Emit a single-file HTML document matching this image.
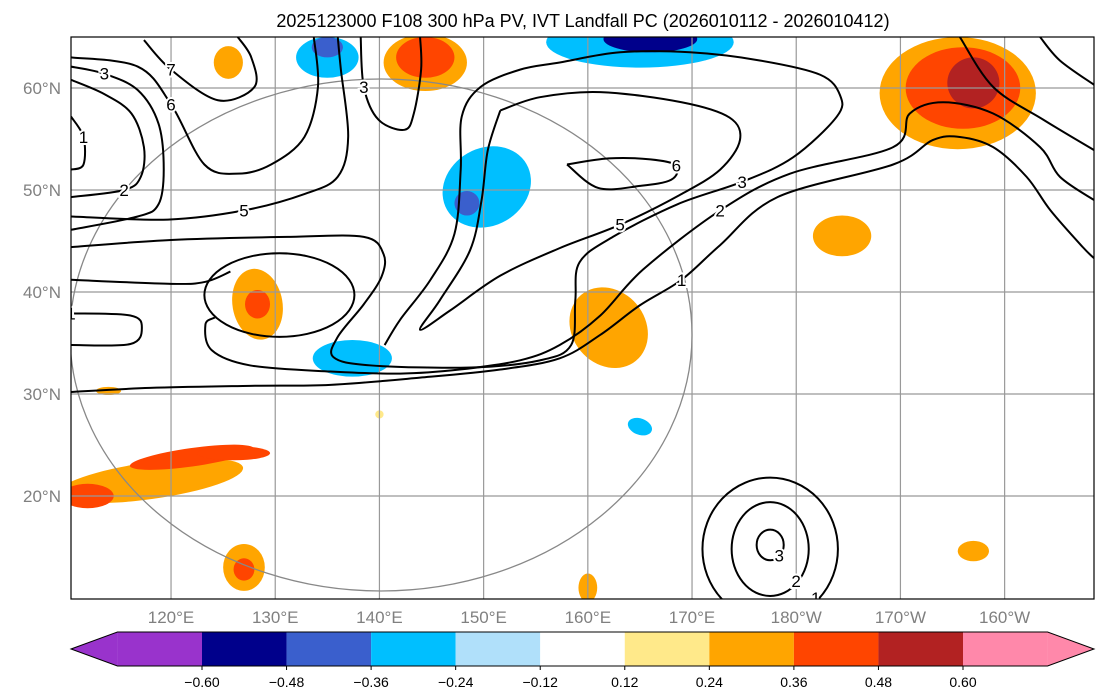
<!DOCTYPE html>
<html><head><meta charset="utf-8"><style>
body{margin:0;background:#fff;}
svg text{font-family:"Liberation Sans","DejaVu Sans",sans-serif;}
</style></head><body>
<svg id="chart" width="1105" height="692" viewBox="0 0 1105 692" xmlns="http://www.w3.org/2000/svg">
<rect width="1105" height="692" fill="#fff"/>
<text x="583" y="27" text-anchor="middle" font-size="18" fill="#000">2025123000 F108 300 hPa PV, IVT Landfall PC (2026010112 - 2026010412)</text>
<clipPath id="mapclip"><rect x="71" y="37" width="1023" height="562"/></clipPath>
<g id="fills" clip-path="url(#mapclip)"></g>
<g id="grid" clip-path="url(#mapclip)"></g>
<g id="contours" clip-path="url(#mapclip)"></g>
<rect x="71" y="37" width="1023" height="562" fill="none" stroke="#000" stroke-width="1.2"/>
<g id="axes"></g>
<g id="cbar"></g>
</svg>
<script>
const lonTicks=[120,130,140,150,160,170,180,190,200];
const lonLabels=["120°E","130°E","140°E","150°E","160°E","170°E","180°W","170°W","160°W"];
const latTicks=[20,30,40,50,60];
const latLabels=["20°N","30°N","40°N","50°N","60°N"];
const cbLevels=[-0.60,-0.48,-0.36,-0.24,-0.12,0.12,0.24,0.36,0.48,0.60];
const cbColors=["#9933cc","#00008b","#3a5fcd","#00bfff","#b0e0fa","#ffffff","#ffe98a","#ffa500","#ff4500","#b22222","#ff88aa"];
// PV anomaly patches: lon, lat, rx(deg), ry(deg), rotation, color index
const blobLon=[195.5,196,197,144.4,144.4,135,135,165,166,150.3,148.4,128.3,128.3,137.4,162,184.4,118,122,126,112,127,127,165,197,160,114,140,125.5];
const blobLat=[59.5,60,60.5,62.5,63,63,64,64.5,64.8,50.3,48.7,38.8,38.8,33.5,36.5,45.5,21.5,23.8,24.2,20,13,12.8,26.8,14.6,11,30.3,28,62.5];
const blobRx=[7.5,5.5,2.5,4,2.8,3,1.5,9,4.5,4.4,1.2,2.4,1.2,3.8,3.5,2.8,9,6,3.5,2.5,2,1,1.2,1.5,0.9,1.2,0.4,1.4];
const blobRy=[5.5,4,2.5,2.8,2,2,1,2.5,1.3,3.8,1.2,3.5,1.4,1.8,4.2,2,1.8,0.9,0.7,1.2,2.3,1.1,0.8,1,1.4,0.4,0.4,1.6];
const blobRot=[0,0,0,0,0,0,0,0,0,-30,0,-10,0,0,-40,0,-8,-8,0,0,0,0,20,0,0,0,0,0];
const blobCol=[7,8,9,7,8,3,2,3,1,3,2,7,8,3,7,7,7,8,8,8,7,8,3,7,7,7,6,7];
// IVT contour lines as [lon,lat] sequences
const cLabels=["1","2","3","5","6","1","","5","7","6","3","2","1","3","",""];
const cLabelIdx=[9,11,17,9,3,0,0,2,1,2,1,5,1,1,0,0];
const contoursLL=[
 [[110.4,30.2],[118,30.6],[127.6,30.8],[135.3,30.9],[143.9,31.6],[151.6,32.4],[157.3,33.5],[161.2,35.8],[165,38.7],[169,41.2],[172.7,44.6],[178.2,49.3],[189.3,52.5],[193.1,54.9],[195.7,55.2],[198.9,54.2],[202.1,51.3],[204.4,48],[207.5,44.4],[208.6,43.3]],
 [[124.2,37.5],[123.3,36.8],[123.9,34.3],[127.6,32.8],[135.3,32.2],[142,32],[147.7,32.4],[153.5,33.3],[157.3,34.8],[161.2,37.7],[165.3,42.2],[172.7,48],[179.4,51.6],[189.3,54.2],[190.9,57.5],[194.1,58.6],[198.9,57.5],[203.4,54.2],[205.3,51.3],[208.6,49]],
 [[110.4,44.4],[120,45.1],[131.2,45.4],[138.5,45.4],[140.4,43.7],[140.2,41.5],[138.5,38.8],[136,35.6],[135.6,33.6],[139.2,32.8],[148.8,32.6],[155.4,33.3],[158.4,34.8],[158.8,39.2],[159.2,42.9],[162.4,45.4],[168.6,48.6],[174.8,50.8],[179.7,53.2],[183.9,57.2],[184.2,59.3],[182.3,61.3],[176.5,62.7],[169.8,63.5],[163.1,63.5],[157.3,62.5],[153.5,61.8],[149.7,60.1],[147.9,57.2],[147.8,52],[147.2,45.7],[144.9,41.2],[142,37.3],[140.5,34.8]],
 [[151.6,57.8],[150.4,53.9],[149.8,49],[148.7,44.1],[145.8,39.2],[143.9,36.3],[146.8,38.2],[151.6,41.6],[157.3,44.3],[163.1,46.6],[168.8,49.5],[172.7,52],[174.6,54.9],[173.6,57.1],[169,58.6],[161.2,59.6],[155.4,59.1],[151.6,57.8]],
 [[158,52.5],[162,53.1],[166,53],[168.5,52.4],[168,51],[165,50.4],[161,50.2],[158,52.5]],
 [[110.4,37.9],[116.1,37.7],[117.2,36.5],[116.1,34.9],[110.4,34.8]],
 [[110.4,41.2],[120,40.8],[123.3,41],[125.7,42]],
 [[110.4,47.4],[119.7,47.1],[127,48],[132.8,49.6],[136,51.3],[137,55.2],[136.3,61.8],[136,65]],
 [[117.4,64.7],[120,61.8],[124.5,58.8],[128,60.1],[127.7,63],[126.4,65]],
 [[110.4,63],[116.8,62.1],[120,58.4],[123.2,52.5],[126.4,51.6],[129.6,52.5],[132.8,55.2],[134.1,60.1],[133.7,65]],
 [[110.4,62.1],[113.6,61.4],[116.8,59.8],[118.8,56.5],[119.3,52],[118.8,48.6],[116.8,47.4],[110.4,46.1]],
 [[110.4,60.8],[113.6,59.4],[116.2,57.5],[117.4,54.2],[117.1,51.3],[115.5,50],[110.4,49.3]],
 [[110.4,57.2],[111.6,55.2],[111.6,52.5],[110.4,52]],
 [[138.2,65],[138.5,60.1],[139.9,56.9],[142.4,55.9],[143.3,57.5],[144,61.8],[143.9,65]],
 [[195.7,65],[198.9,60.1],[203.7,56.9],[208.6,53.9]],
 [[203.4,65],[205.3,62.7],[208.6,60.3]]
];
// closed loop contours (center lon, lat, rx, ry)
const loopLon=[177.5,177.5,177.5,130.4];
const loopLat=[14.8,14.8,15.2,39.7];
const loopRx=[6.5,3.7,1.3,7.2];
const loopRy=[7,4.6,1.5,4.1];
const loopLabels=["1","2","3",""];

const X=lon=>71+(lon-110.4)*10.42;
const Y=lat=>37+(65-lat)*10.2;
const NS="http://www.w3.org/2000/svg";
function mk(tag,attrs,parent){const e=document.createElementNS(NS,tag);for(const k in attrs)e.setAttribute(k,attrs[k]);parent.appendChild(e);return e;}

const fills=document.getElementById('fills');
const order=blobCol.map((c,i)=>i).sort((a,b)=>Math.abs(blobCol[a]-5)-Math.abs(blobCol[b]-5));
for(const i of order){
 const e=mk('ellipse',{cx:X(blobLon[i]),cy:Y(blobLat[i]),rx:blobRx[i]*10.42,ry:blobRy[i]*10.2,fill:cbColors[blobCol[i]],transform:`rotate(${blobRot[i]} ${X(blobLon[i])} ${Y(blobLat[i])})`},fills);
 
 
}
const grid=document.getElementById('grid');
lonTicks.forEach(l=>{const g=mk('line',{x1:X(l),x2:X(l),y1:37,y2:599,stroke:'#999',"stroke-width":1.2},grid);});
latTicks.forEach(l=>{const g=mk('line',{x1:71,x2:1094,y1:Y(l),y2:Y(l),stroke:'#999',"stroke-width":1.2},grid);});
const ring=mk('ellipse',{cx:381,cy:335,rx:311,ry:256,fill:'none',stroke:'#888',"stroke-width":1.3},grid);



const cont=document.getElementById('contours');
function smooth(pts){let d=`M${pts[0][0]},${pts[0][1]}`;for(let i=0;i<pts.length-1;i++){const p0=pts[i-1]||pts[i],p1=pts[i],p2=pts[i+1],p3=pts[i+2]||p2;d+=` C${p1[0]+(p2[0]-p0[0])/6},${p1[1]+(p2[1]-p0[1])/6} ${p2[0]-(p3[0]-p1[0])/6},${p2[1]-(p3[1]-p1[1])/6} ${p2[0]},${p2[1]}`;}return d;}
contoursLL.forEach((c,i)=>{
 const pts=c.map(p=>[X(p[0]),Y(p[1])]);
 const p=mk('path',{d:smooth(pts),fill:'none',stroke:'#000',"stroke-width":2},cont);
 
 
 if(cLabels[i]){
  const m=pts[cLabelIdx[i]];
  const t=mk('text',{x:m[0],y:m[1]+6,"font-size":17,"text-anchor":"middle",fill:'#000',stroke:'#fff',"stroke-width":4,"paint-order":"stroke"},cont);
  t.textContent=cLabels[i];
  
  
 }
});
loopLon.forEach((l,i)=>{
 const e=mk('ellipse',{cx:X(l),cy:Y(loopLat[i]),rx:loopRx[i]*10.42,ry:loopRy[i]*10.2,fill:'none',stroke:'#000',"stroke-width":2},cont);
 
 
 if(loopLabels[i]){
  const t=mk('text',{x:X(l)+loopRx[i]*7,y:Y(loopLat[i])+loopRy[i]*7+6,"font-size":17,"text-anchor":"middle",fill:'#000',stroke:'#fff',"stroke-width":4,"paint-order":"stroke"},cont);
  t.textContent=loopLabels[i];
  
  
 }
});

const axes=document.getElementById('axes');
lonTicks.forEach((l,i)=>{const t=mk('text',{x:X(l),y:623,"font-size":17,"text-anchor":"middle",fill:'#808080'},axes);t.textContent=lonLabels[i];});
latTicks.forEach((l,i)=>{const t=mk('text',{x:61,y:Y(l)+6,"font-size":17,"text-anchor":"end",fill:'#808080'},axes);t.textContent=latLabels[i];});

const cb=document.getElementById('cbar');
const seg=(963-202)/(cbLevels.length-1);
const CI=i=>202+i*seg;
const cy0=632,cy1=666;
cbColors.forEach((c,i)=>{
 const x0=CI(i-1),x1=CI(i);
 const r=mk('rect',{x:x0,y:cy0,width:x1-x0,height:cy1-cy0,fill:c},cb);
 
 
});
const lt=mk('polygon',{points:`${CI(-1)},${cy0} ${CI(-1)},${cy1} 71,${(cy0+cy1)/2}`,fill:cbColors[0]},cb);


const rt=mk('polygon',{points:`${CI(10)},${cy0} ${CI(10)},${cy1} 1094,${(cy0+cy1)/2}`,fill:cbColors[10]},cb);


const ob=mk('polygon',{points:`71,${(cy0+cy1)/2} ${CI(-1)},${cy0} ${CI(10)},${cy0} 1094,${(cy0+cy1)/2} ${CI(10)},${cy1} ${CI(-1)},${cy1}`,fill:'none',stroke:'#000'},cb);


cbLevels.forEach((v,i)=>{
 const tk=mk('line',{x1:CI(i),x2:CI(i),y1:cy1,y2:cy1+4,stroke:'#000'},cb);
 
 
 const t=mk('text',{x:CI(i),y:687,"font-size":14,"text-anchor":"middle",fill:'#000'},cb);
 t.textContent=(v<0?'\u2212':'')+Math.abs(v).toFixed(2);
 
 
});
</script>
</body></html>
